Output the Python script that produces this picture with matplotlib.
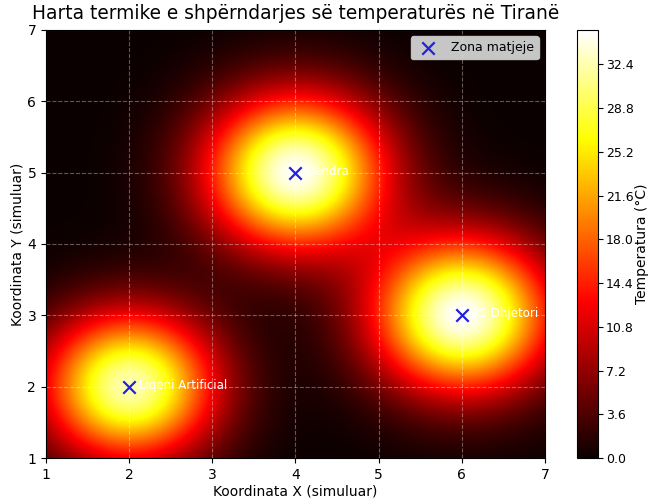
import numpy as np
import matplotlib
matplotlib.use("Agg")
import matplotlib.pyplot as plt

ZONE_NAMES = ["Qendra", "21 Dhjetori", "Liqeni Artificial"]
ZONE_X     = [4, 6, 2]
ZONE_Y     = [5, 3, 2]
ZONE_PEAK  = [35.0, 35.2, 32.5]   # °C at the zone centre
ZONE_SPREAD = [0.75, 0.75, 0.72]  # heat spread (coordinate units)

CBAR_TICKS = [0.0, 3.6, 7.2, 10.8, 14.4, 18.0, 21.6, 25.2, 28.8, 32.4]

# ── temperature field built from the zones ─────────────────────────────────────
gx = np.linspace(1, 7, 400)
gy = np.linspace(1, 7, 400)
X, Y = np.meshgrid(gx, gy)
T = np.zeros_like(X)
for zx, zy, peak, sp in zip(ZONE_X, ZONE_Y, ZONE_PEAK, ZONE_SPREAD):
    T += peak * np.exp(-((X - zx) ** 2 + (Y - zy) ** 2) / (2 * sp ** 2))

fig = plt.figure(figsize=(6.53, 4.98), dpi=100)
ax  = fig.add_axes([0.0704, 0.0803, 0.7642, 0.8595])
cax = fig.add_axes([0.8836, 0.0803, 0.0322, 0.8595])

im = ax.imshow(T, extent=[1, 7, 1, 7], origin="lower", cmap="hot",
               aspect="auto", interpolation="bilinear", vmin=0, vmax=T.max())

ax.scatter(ZONE_X, ZONE_Y, marker="x", s=80, color="#2222dd", linewidths=1.6,
           zorder=3, label="Zona matjeje")
for name, zx, zy in zip(ZONE_NAMES, ZONE_X, ZONE_Y):
    ax.text(zx + 0.12, zy + 0.02, name, color="white", fontsize=8.5,
            va="center", ha="left", zorder=4)

ax.set_xlim(1, 7)
ax.set_ylim(1, 7)
ax.grid(True, linestyle="--", color="white", alpha=0.35, linewidth=0.8)
ax.set_xlabel("Koordinata X (simuluar)", fontsize=10, labelpad=2)
ax.set_ylabel("Koordinata Y (simuluar)", fontsize=10, labelpad=2)
ax.set_title("Harta termike e shpërndarjes së temperaturës në Tiranë",
             fontsize=13.4, pad=8)
ax.legend(loc="upper right", fontsize=9, facecolor="#dddddd",
          framealpha=0.9)

cb = fig.colorbar(im, cax=cax, ticks=CBAR_TICKS, format="%.1f")
cb.ax.tick_params(labelsize=9, pad=2)
cb.set_label("Temperatura (°C)", fontsize=10, labelpad=1)

fig.savefig("out.png", dpi=100)
